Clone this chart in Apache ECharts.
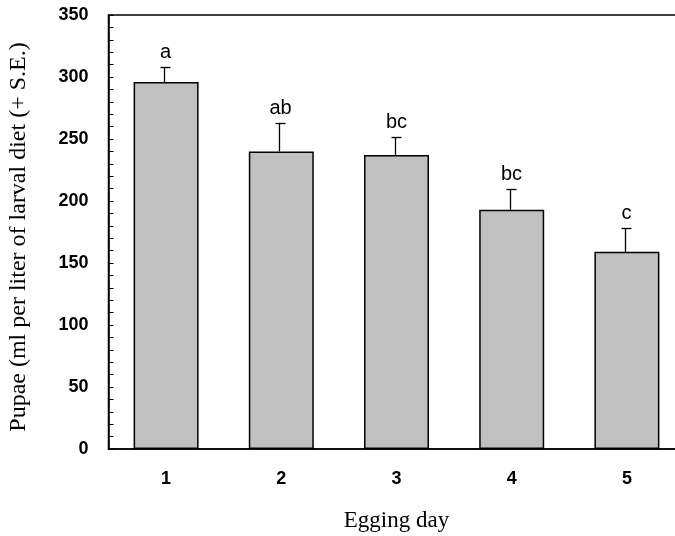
<!DOCTYPE html>
<html>
<head>
<meta charset="utf-8">
<script src="https://cdn.jsdelivr.net/npm/echarts@6/dist/echarts.min.js"></script>
<style>
html,body{margin:0;padding:0;background:#fff;}
#chart{width:675px;height:536px;}
</style>
</head>
<body>
<div id="chart"></div>
<script>
const categories = ['1', '2', '3', '4', '5'];
const means = [296, 240, 237, 193, 159];
const stdErr = [12, 23, 15, 17, 19];
const letters = ['a', 'ab', 'bc', 'bc', 'c'];
const yTicks = [0, 50, 100, 150, 200, 250, 300, 350];

const chart = echarts.init(document.getElementById('chart'), null, {renderer: 'canvas'});

const errData = categories.map((c, i) => [i, means[i], means[i] + stdErr[i], letters[i]]);

const option = {
  animation: false,
  backgroundColor: '#fff',
  grid: {
    left: 108.5, top: 15, width: 576, height: 434,
    outerBoundsMode: 'none',
    containLabel: false,
    show: true, borderColor: '#000', borderWidth: 1.5, backgroundColor: 'transparent'
  },
  xAxis: {
    type: 'category',
    data: categories,
    name: 'Egging day',
    nameLocation: 'middle',
    nameGap: 60,
    nameTextStyle: {fontFamily: 'Liberation Serif', fontSize: 23, color: '#000'},
    axisLine: {show: true, lineStyle: {color: '#000', width: 1.5}},
    axisTick: {show: false},
    axisLabel: {fontFamily: 'Liberation Sans', fontWeight: 'bold', fontSize: 18, color: '#000', margin: 21},
    splitLine: {show: false}
  },
  yAxis: {
    type: 'value',
    min: yTicks[0],
    max: yTicks[yTicks.length - 1],
    interval: yTicks[1] - yTicks[0],
    name: 'Pupae (ml per liter of larval diet (+ S.E.)',
    nameLocation: 'middle',
    nameGap: 78,
    nameTextStyle: {fontFamily: 'Liberation Serif', fontSize: 24, color: '#000', padding: [0, 10, 0, 0]},
    axisLine: {show: true, lineStyle: {color: '#000', width: 1.5}},
    axisTick: {show: true, inside: true, length: 5, lineStyle: {color: '#000', width: 1}},
    minorTick: {show: true, splitNumber: 5, length: 5, lineStyle: {color: '#000', width: 1}},
    axisLabel: {fontFamily: 'Liberation Sans', fontWeight: 'bold', fontSize: 18, color: '#000', margin: 20},
    splitLine: {show: false},
    minorSplitLine: {show: false}
  },
  series: [
    {
      type: 'bar',
      data: means,
      barWidth: 65,
      itemStyle: {color: '#c0c0c0', borderColor: '#000', borderWidth: 1.5},
      silent: true,
      z: 2
    },
    {
      type: 'custom',
      data: errData,
      silent: true,
      z: 3,
      renderItem: function (params, api) {
        const i = api.value(0);
        const base = api.coord([i, api.value(1)]);
        const top = api.coord([i, api.value(2)]);
        const sx = Math.round(base[0]) - 2 + 0.5;
        const ty = Math.round(top[1]) + 0.5;
        return {
          type: 'group',
          children: [
            {type: 'line', shape: {x1: sx, y1: base[1], x2: sx, y2: ty}, style: {stroke: '#000', lineWidth: 1.3}},
            {type: 'line', shape: {x1: sx - 4, y1: ty, x2: sx + 6, y2: ty}, style: {stroke: '#000', lineWidth: 1.3}},
            {type: 'text', x: sx + 1, y: ty - 15, style: {
              text: letters[params.dataIndex], fontFamily: 'Liberation Sans', fontSize: 20,
              fill: '#000', align: 'center', verticalAlign: 'middle'
            }}
          ]
        };
      }
    }
  ]
};
chart.setOption(option);
</script>
</body>
</html>
